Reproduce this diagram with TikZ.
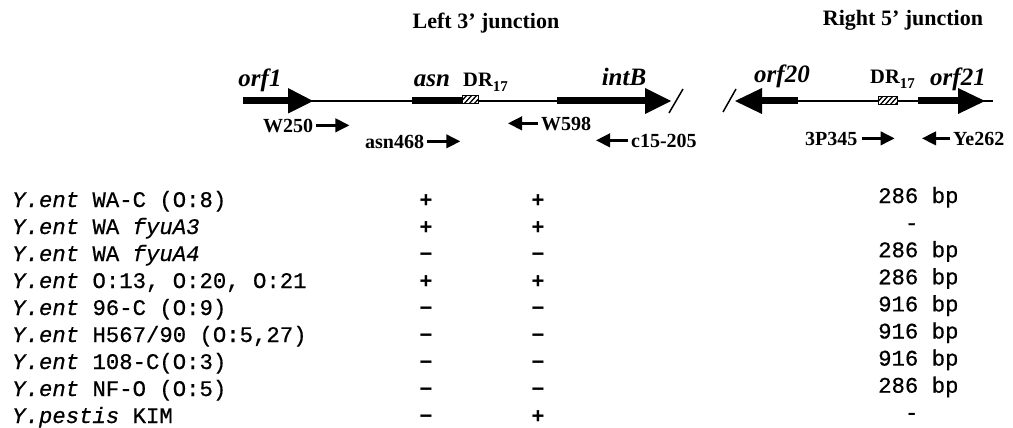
\documentclass[tikz,border=0pt]{standalone}
\usepackage{fontspec}
\setmainfont{Liberation Serif}
\newfontfamily\monofam[FakeBold=0.6]{Liberation Mono}
\newfontfamily\sansfam{Liberation Sans}
\usetikzlibrary{arrows.meta}
\tikzset{
  dna/.style={line width=1.5pt},
  slashline/.style={line width=1.5pt},
  primer/.style={line width=2.5pt,-{Triangle[length=14pt,width=13.5pt]}},
  lbl/.style={font=\bfseries\fontsize{20}{21}\selectfont,inner sep=0pt,text depth=0pt,anchor=base west},
  genelbl/.style={font=\bfseries\itshape\fontsize{25}{26}\selectfont,inner sep=0pt,anchor=base},
  drlbl/.style={font=\bfseries\fontsize{20.5}{22}\selectfont,inner sep=0pt,anchor=base west},
  titlelbl/.style={font=\bfseries\fontsize{22}{24}\selectfont,inner sep=0pt,anchor=base},
  strain/.style={font=\monofam\fontsize{22.3}{24}\selectfont,inner sep=0pt,anchor=base west},
  pm/.style={font=\sansfam\bfseries\fontsize{22}{23}\selectfont,inner sep=0pt,anchor=base},
  hatchbox/.style={draw=black,fill=white,line width=1pt}
}
\newcommand{\drsub}{DR\raisebox{-0.22em}{\fontsize{15}{15}\selectfont 17}}
\begin{document}
\begin{tikzpicture}[x=1pt,y=-1pt]
\useasboundingbox (0,0) rectangle (1013,428);

% titles
\node[titlelbl] (tleft) at (486,29) {Left 3’ junction};
\node[titlelbl] (tright) at (903,26) {Right 5’ junction};

% ---------- left junction ----------
\draw[dna] (243,101) -- (650,101);
% orf1
\fill (243,97.5) rectangle (289,104.5);
\fill (288,88) -- (313,101) -- (288,113.5) -- cycle;
% asn
\fill (412,97.5) rectangle (462,104.5);
% DR box left
\draw[hatchbox] (462,96) rectangle (478,103.5);
\begin{scope}
  \clip (462,96) rectangle (478,103.5);
  \foreach \i in {-8,-3,...,18} \draw[line width=1.3pt] (462+\i,104) -- ++(8,-9);
\end{scope}
\draw[line width=1pt] (462,96) rectangle (478,103.5);
% intB
\fill (557,97.5) rectangle (646,104.5);
\fill (645,88) -- (671,101) -- (645,114) -- cycle;
\draw[slashline] (669,113) -- (683,89);

% ---------- right junction ----------
\draw[slashline] (723,112) -- (736,89);
\draw[dna] (760,101) -- (993,101);
% orf20
\fill (735,101) -- (762,88) -- (762,114) -- cycle;
\fill (761,97.5) rectangle (798,104.5);
% DR box right
\draw[hatchbox] (878,97) rectangle (897,104.5);
\begin{scope}
  \clip (878,97) rectangle (897,104.5);
  \foreach \i in {-8,-3,...,22} \draw[line width=1.3pt] (878+\i,105) -- ++(8,-9);
\end{scope}
\draw[line width=1pt] (878,97) rectangle (897,104.5);
% orf21
\fill (918,97.5) rectangle (959,104.5);
\fill (958,88) -- (985,101) -- (958,114) -- cycle;

% gene labels
\node[genelbl] (orf1) at (260,87) {orf1};
\node[genelbl] (asn) at (432,87) {asn};
\node[drlbl] (drL) at (463,87) {\drsub};
\node[genelbl] (intB) at (624,85) {intB};
\node[genelbl] (orf20) at (782,83) {orf20};
\node[drlbl] (drR) at (870,84) {\drsub};
\node[genelbl] (orf21) at (958,85) {orf21};

% primers
\node[lbl] (w250) at (263,132) {W250};
\draw[primer] ([xshift=3pt]w250.east) -- ([xshift=36pt]w250.east);
\node[lbl] (asn468) at (365,148) {asn468};
\draw[primer] ([xshift=3pt]asn468.east) -- ([xshift=36pt]asn468.east);
\node[lbl] (w598) at (541,130) {W598};
\draw[primer] ([xshift=-3pt]w598.west) -- ([xshift=-33pt]w598.west);
\node[lbl] (c15) at (631,147) {c15-205};
\draw[primer] ([xshift=-3pt]c15.west) -- ([xshift=-35pt]c15.west);
\node[lbl] (p3p) at (805,145) {3P345};
\draw[primer] ([xshift=4pt]p3p.east) -- ([xshift=37pt]p3p.east);
\node[lbl] (ye) at (953,145) {Ye262};
\draw[primer] ([xshift=-3pt]ye.west) -- ([xshift=-31pt]ye.west);

% strain table
\foreach \t [count=\k from 0] in {
  {\textit{Y.ent} WA-C (O:8)},
  {\textit{Y.ent} WA \textit{fyuA3}},
  {\textit{Y.ent} WA \textit{fyuA4}},
  {\textit{Y.ent} O:13, O:20, O:21},
  {\textit{Y.ent} 96-C (O:9)},
  {\textit{Y.ent} H567/90 (O:5,27)},
  {\textit{Y.ent} 108-C(O:3)},
  {\textit{Y.ent} NF-O (O:5)},
  {\textit{Y.pestis} KIM}}
  \node[strain] (s\k) at (12,207+27*\k) {\t};

\foreach \a/\b [count=\k from 0] in {+/+,+/+,−/−,+/+,−/−,−/−,−/−,−/−,−/+}{
  \node[pm] (pa\k) at (426,207.5+27*\k) {\a};
  \node[pm] (pb\k) at (538,207.5+27*\k) {\b};
}

\foreach \t [count=\k from 0] in {286 bp,\ \ -,286 bp,286 bp,916 bp,916 bp,916 bp,286 bp,\ \ -}
  \node[strain] (bp\k) at (878,203+27.1*\k) {\t};
\end{tikzpicture}
\end{document}
